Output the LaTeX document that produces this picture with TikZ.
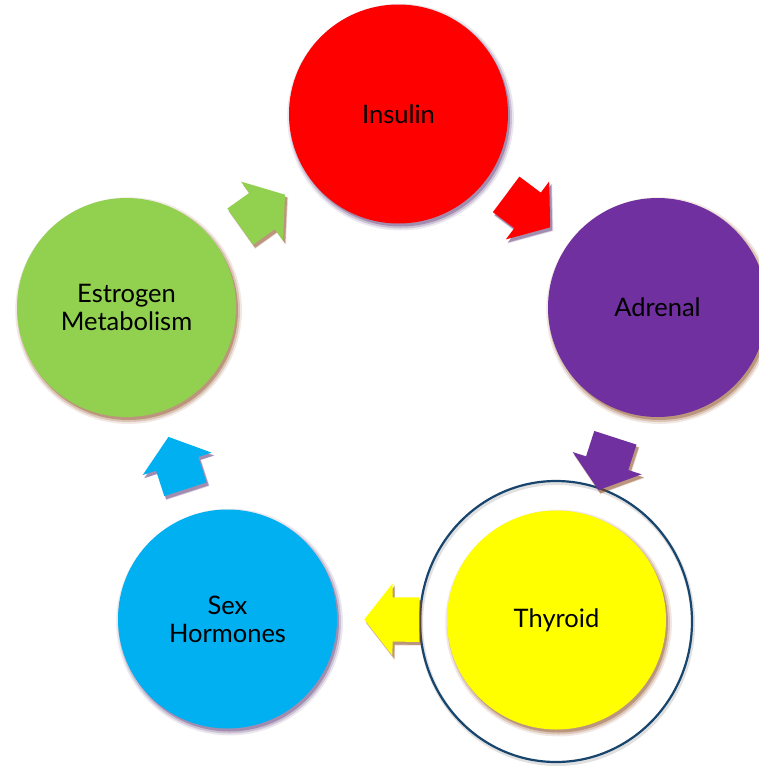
\documentclass[tikz,border=0pt]{standalone}
\usepackage{fontspec}
\setmainfont{Lato}
\usetikzlibrary{shapes.arrows,shapes.geometric,shadows,calc}

\definecolor{insred}{HTML}{FF0000}
\definecolor{adrpurple}{HTML}{7030A0}
\definecolor{thyyellow}{HTML}{FFFF00}
\definecolor{sexblue}{HTML}{00B0F0}
\definecolor{estgreen}{HTML}{92D050}
\definecolor{ringblue}{HTML}{17456E}
\definecolor{shbrown}{HTML}{8C4A1C}
\definecolor{shplum}{HTML}{5E3A78}

% soft drop shadow, built from a few stacked copies
\tikzset{
  soft/.style={
    general shadow={fill=#1, opacity=0.12, shadow xshift=2pt, shadow yshift=-3pt, shadow scale=1.035},
    general shadow={fill=#1, opacity=0.22, shadow xshift=2pt, shadow yshift=-3pt, shadow scale=1.018},
    general shadow={fill=#1, opacity=0.38, shadow xshift=2pt, shadow yshift=-3pt}},
}

\begin{document}
\begin{tikzpicture}[x=1pt, y=-1pt, every node/.style={font=\fontsize{25.5}{28}\selectfont}]
\tikzstyle{hub}=[circle, minimum size=219pt, inner sep=0pt, align=center]
\tikzstyle{cycarrow}=[single arrow, sloped, allow upside down, at start, anchor=tail, inner xsep=0pt, inner ysep=22pt, minimum width=0pt, minimum height=55pt, single arrow head extend=14pt, single arrow tip angle=104]
\useasboundingbox[fill=white] (0,0) rectangle (758,766);
% the five glands
\node[hub, fill=insred, soft=shplum] (ins) at (398.5,114) {Insulin};
\node[hub, fill=adrpurple, soft=shbrown] (adr) at (657.5,307.5) {Adrenal};
\node[hub, fill=thyyellow, soft=shbrown] (thy) at (556.5,620) {Thyroid};
\node[hub, fill=sexblue, soft=shplum] (sex) at (227.5,619) {Sex\\Hormones};
\node[hub, fill=estgreen, soft=shbrown] (est) at (126.5,307.5) {Estrogen\\Metabolism};
% ring round the thyroid
\node[ellipse, draw=ringblue, line width=2.2pt, minimum width=272pt, minimum height=281pt,
  general shadow={draw=black!12, line width=4pt, shadow xshift=1pt, shadow yshift=-2pt}] (ring) at (556,621.5) {};
% arrows of the cycle, tail set half a length back from the middle
\path ($(ins)!0.5!(adr)!27.5pt!(ins)$) -- node[cycarrow, fill=insred, soft=shplum] (a1) {} (adr);
\path ($(adr)!0.5!(thy)!27.5pt!(adr)$) -- node[cycarrow, fill=adrpurple, soft=shbrown] (a2) {} (thy);
\path ($(thy)!0.5!(sex)!27.5pt!(thy)$) -- node[cycarrow, fill=thyyellow, soft=shbrown] (a3) {} (sex);
\path ($(sex)!0.5!(est)!27.5pt!(sex)$) -- node[cycarrow, fill=sexblue, soft=shplum] (a4) {} (est);
\path ($(est)!0.5!(ins)!27.5pt!(est)$) -- node[cycarrow, fill=estgreen, soft=shbrown] (a5) {} (ins);
\end{tikzpicture}
\end{document}
